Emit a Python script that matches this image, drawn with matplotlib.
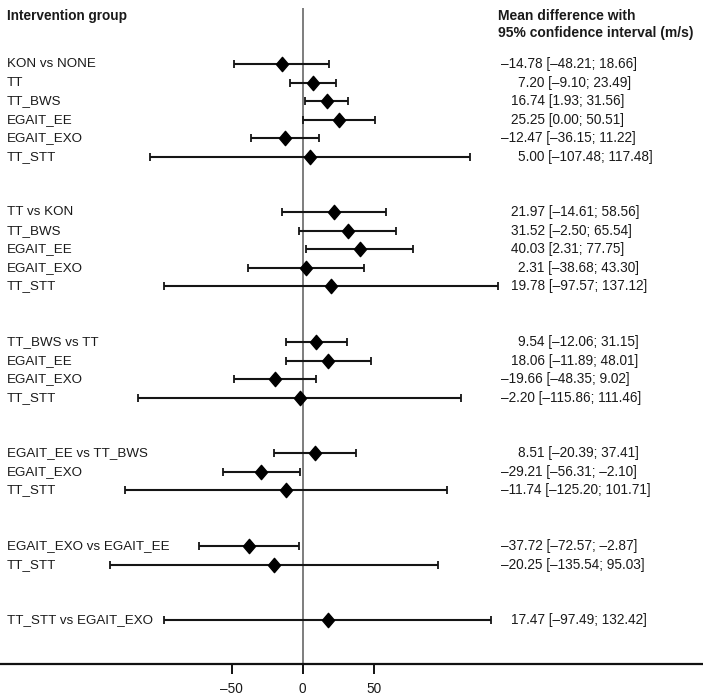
import numpy as np
import matplotlib
matplotlib.use("Agg")
import matplotlib.pyplot as plt
from matplotlib.path import Path

plt.rcParams['font.family'] = ['Liberation Sans', 'DejaVu Sans']

labels = ["KON vs NONE", "TT", "TT_BWS", "EGAIT_EE", "EGAIT_EXO", "TT_STT",
          "TT vs KON", "TT_BWS", "EGAIT_EE", "EGAIT_EXO", "TT_STT",
          "TT_BWS vs TT", "EGAIT_EE", "EGAIT_EXO", "TT_STT",
          "EGAIT_EE vs TT_BWS", "EGAIT_EXO", "TT_STT",
          "EGAIT_EXO vs EGAIT_EE", "TT_STT",
          "TT_STT vs EGAIT_EXO"]
means = [-14.78, 7.20, 16.74, 25.25, -12.47, 5.00,
         21.97, 31.52, 40.03, 2.31, 19.78,
         9.54, 18.06, -19.66, -2.20,
         8.51, -29.21, -11.74,
         -37.72, -20.25,
         17.47]
lower = [-48.21, -9.10, 1.93, 0.00, -36.15, -107.48,
         -14.61, -2.50, 2.31, -38.68, -97.57,
         -12.06, -11.89, -48.35, -115.86,
         -20.39, -56.31, -125.20,
         -72.57, -135.54,
         -97.49]
upper = [18.66, 23.49, 31.56, 50.51, 11.22, 117.48,
         58.56, 65.54, 77.75, 43.30, 137.12,
         31.15, 48.01, 9.02, 111.46,
         37.41, -2.10, 101.71,
         -2.87, 95.03,
         132.42]
group_sizes = [6, 5, 4, 3, 2, 1]
xticks = [-50, 0, 50]
xticklabels = ["\u201350", "0", "50"]

# row positions (two blank rows between groups)
rows = []
r = 0
for g in group_sizes:
    for i in range(g):
        rows.append(r)
        r += 1
    r += 2
rows = np.array(rows, dtype=float)
means = np.array(means); lower = np.array(lower); upper = np.array(upper)

W, H = 703, 699
fig = plt.figure(figsize=(W / 100, H / 100), dpi=100)
ax_bottom_px = 664
ax = fig.add_axes([0, (H - ax_bottom_px) / H, 1, ax_bottom_px / H])

scale = 1.423  # px per unit
zero_px = 302.7
ax.set_xlim(-zero_px / scale, (W - zero_px) / scale)
row_step = 18.54
row0_px = 64
ax.set_ylim((ax_bottom_px - row0_px) / row_step, -row0_px / row_step)

def px2row(py):
    return (py - row0_px) / row_step

# zero line
ax.vlines(0, px2row(8), px2row(ax_bottom_px), color='#5a5a5a', lw=1.1, zorder=1)

# CIs
ax.errorbar(means, rows, xerr=[means - lower, upper - means], fmt='none',
            ecolor='#151515', elinewidth=1.5, capsize=2.6, capthick=1.3, zorder=2)
diamond = Path([(0, 1), (0.85, 0), (0, -1), (-0.85, 0), (0, 1)],
               [Path.MOVETO, Path.LINETO, Path.LINETO, Path.LINETO, Path.CLOSEPOLY])
ax.plot(means, rows, linestyle='none', marker=diamond, markersize=10.3,
        color='black', zorder=3)

fs = 9.8
tc = '#1a1a1a'
# headers
ax.text(7 / W, px2row(16), "Intervention group", transform=ax.get_yaxis_transform(),
        fontsize=fs, fontweight='bold', color=tc, va='center', ha='left')
ax.text(498 / W, px2row(16), "Mean difference with", transform=ax.get_yaxis_transform(),
        fontsize=10, fontweight='bold', color=tc, va='center', ha='left')
ax.text(498 / W, px2row(33), "95% confidence interval (m/s)", transform=ax.get_yaxis_transform(),
        fontsize=10, fontweight='bold', color=tc, va='center', ha='left')

def fmt(v):
    s = f"{abs(v):.2f}"
    return ("\u2013" + s) if v < 0 else s

for lab, m, lo, hi, y in zip(labels, means, lower, upper, rows):
    ax.text(7 / W, y, lab, transform=ax.get_yaxis_transform(), fontsize=9.6,
            color=tc, va='center', ha='left')
    if m < 0:
        xs = 501
    elif m >= 10:
        xs = 511.5
    else:
        xs = 518.5
    s = f"{fmt(m)} [{fmt(lo)}; {fmt(hi)}]"
    ax.text(xs / W, y, s, transform=ax.get_yaxis_transform(), fontsize=fs,
            color=tc, va='center', ha='left')

# axis styling
for sp in ['top', 'left', 'right']:
    ax.spines[sp].set_visible(False)
ax.spines['bottom'].set_linewidth(1.6)
ax.spines['bottom'].set_color('#111111')
ax.set_yticks([])
ax.set_xticks(xticks)
ax.set_xticklabels(xticklabels)
ax.tick_params(axis='x', length=7, width=1.4, color='#111111', pad=6,
               labelsize=fs, labelcolor=tc)
ax.patch.set_alpha(0)

fig.savefig("out.png", dpi=100)
